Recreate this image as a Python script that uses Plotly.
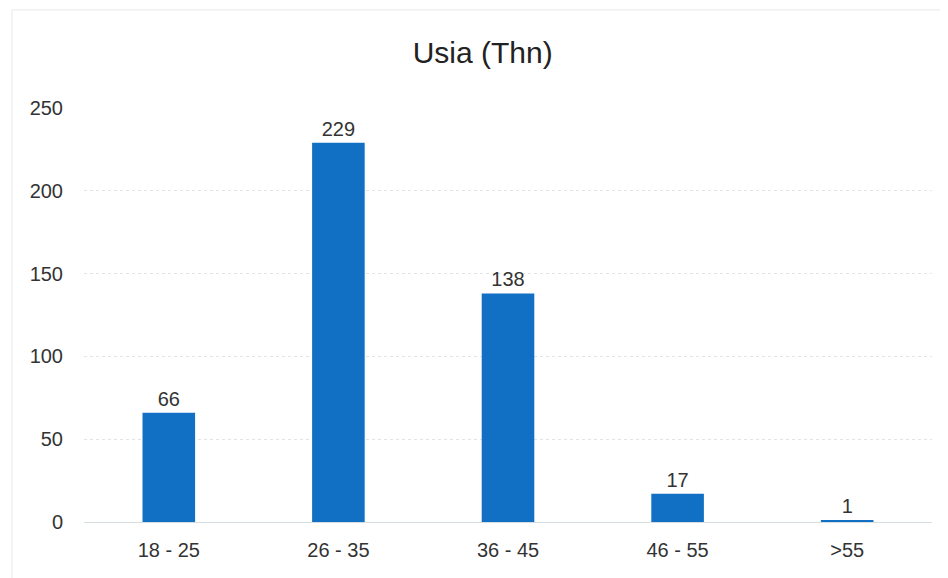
import plotly.graph_objects as go

categories = ["18 - 25", "26 - 35", "36 - 45", "46 - 55", ">55"]
values = [66, 229, 138, 17, 1]
y_ticks = [0, 50, 100, 150, 200, 250]

fig = go.Figure()
fig.add_trace(go.Bar(
    x=categories, y=values,
    marker=dict(color="#1170c4", line=dict(width=0)),
    text=[str(v) for v in values], textposition="outside",
    textfont=dict(size=20, color="#333333", family="Liberation Sans, Arial"),
    cliponaxis=False, width=0.31,
))
fig.update_layout(
    width=940, height=570,
    margin=dict(l=76, r=16, t=100, b=56),
    paper_bgcolor="white", plot_bgcolor="white",
    title=dict(text="Usia (Thn)", x=0.505, xanchor="center", y=1 - 44 / 570, yanchor="middle",
               font=dict(size=30, color="#222222", family="Liberation Sans, Arial")),
    font=dict(family="Liberation Sans, Arial", size=20, color="#333333"),
    showlegend=False,
    xaxis=dict(showgrid=False, showline=False, ticks="", tickfont=dict(size=20),
               ticklabelstandoff=14),
    yaxis=dict(range=[0, 250], tickvals=y_ticks, showgrid=True, gridcolor="#e0e6e8",
               griddash="dot", gridwidth=1, zeroline=True, zerolinecolor="#d6dde0",
               zerolinewidth=1, showline=False, tickfont=dict(size=20),
               ticklabelstandoff=20),
    shapes=[dict(type="rect", xref="paper", yref="paper", x0=-0.085, x1=1.03, y0=-0.2, y1=1.237,
                 line=dict(color="#e6e9ea", width=1))],
)
fig.write_html("out.html")
